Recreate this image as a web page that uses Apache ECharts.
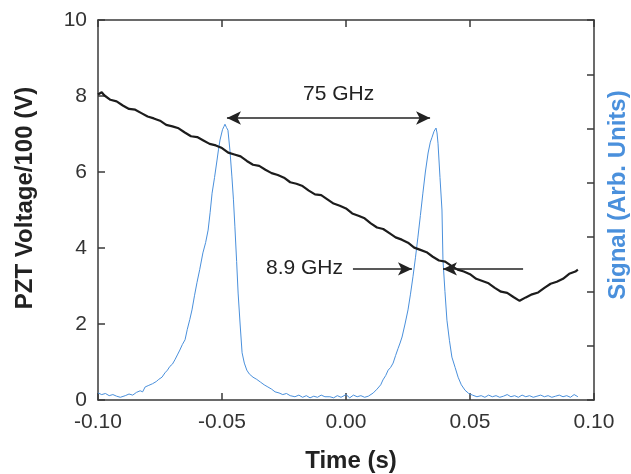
<!DOCTYPE html>
<html>
<head>
    <meta charset="utf-8">
    <title>PZT scan</title>
    <style>
        html, body { margin: 0; padding: 0; background: #fff; }
        #main { width: 631px; height: 474px; }
    </style>
</head>
<body>
<div id="main"></div>
<script src="https://cdn.jsdelivr.net/npm/echarts@6/dist/echarts.min.js"></script>
<script type="text/javascript">
    // x tick labels (time, s)
    var timeTicks = ['-0.10', '-0.05', '0.00', '0.05', '0.10'];

    // PZT voltage / 100 (V), left axis
    var pztTime = [-0.1000, -0.0985, -0.0975, -0.0950, -0.0925, -0.0900, -0.0875, -0.0850, -0.0825, -0.0800,
        -0.0775, -0.0750, -0.0725, -0.0700, -0.0675, -0.0650, -0.0625, -0.0600, -0.0575, -0.0550,
        -0.0525, -0.0500, -0.0475, -0.0450, -0.0425, -0.0400, -0.0375, -0.0350, -0.0325, -0.0300,
        -0.0275, -0.0250, -0.0225, -0.0200, -0.0175, -0.0150, -0.0125, -0.0100, -0.0075, -0.0050,
        -0.0025, 0.0000, 0.0025, 0.0050, 0.0075, 0.0100, 0.0125, 0.0150, 0.0175, 0.0200,
        0.0225, 0.0250, 0.0275, 0.0300, 0.0325, 0.0350, 0.0375, 0.0400, 0.0425, 0.0450,
        0.0475, 0.0500, 0.0525, 0.0550, 0.0575, 0.0600, 0.0625, 0.0650, 0.0675, 0.0700,
        0.0706, 0.0725, 0.0750, 0.0775, 0.0800, 0.0825, 0.0850, 0.0875, 0.0900, 0.0925, 0.0935];
    var pztVolt = [8.04, 8.10, 8.02, 7.90, 7.86, 7.75, 7.66, 7.64, 7.55, 7.46,
        7.41, 7.35, 7.24, 7.20, 7.15, 7.04, 6.94, 6.92, 6.83, 6.74,
        6.70, 6.63, 6.51, 6.46, 6.41, 6.29, 6.19, 6.16, 6.06, 5.97,
        5.92, 5.85, 5.73, 5.69, 5.63, 5.51, 5.41, 5.39, 5.28, 5.17,
        5.11, 5.04, 4.91, 4.85, 4.78, 4.65, 4.54, 4.50, 4.39, 4.28,
        4.22, 4.14, 4.01, 3.95, 3.89, 3.77, 3.67, 3.64, 3.53, 3.43,
        3.38, 3.31, 3.19, 3.13, 3.07, 2.95, 2.85, 2.82, 2.71, 2.61,
        2.60, 2.70, 2.78, 2.83, 2.95, 3.06, 3.11, 3.19, 3.32, 3.38, 3.43];

    // transmission signal (arb. units), right axis
    var sigTime = [-0.1000, -0.0985, -0.0970, -0.0955, -0.0940, -0.0925, -0.0910, -0.0903, -0.0890, -0.0875,
        -0.0860, -0.0845, -0.0830, -0.0820, -0.0810, -0.0795, -0.0780, -0.0765, -0.0755, -0.0742,
        -0.0730, -0.0720, -0.0710, -0.0700, -0.0690, -0.0680, -0.0670, -0.0660, -0.0649, -0.0640,
        -0.0630, -0.0621, -0.0611, -0.0601, -0.0590, -0.0577, -0.0566, -0.0556, -0.0548, -0.0540,
        -0.0530, -0.0520, -0.0514, -0.0508, -0.0498, -0.0492, -0.0488, -0.0482, -0.0476, -0.0468,
        -0.0460, -0.0454, -0.0448, -0.0441, -0.0435, -0.0427, -0.0419, -0.0410, -0.0400, -0.0390,
        -0.0375, -0.0360, -0.0345, -0.0330, -0.0315, -0.0300, -0.0286, -0.0270, -0.0255, -0.0240,
        -0.0225, -0.0206, -0.0190, -0.0175, -0.0160, -0.0145, -0.0130, -0.0115, -0.0100, -0.0085,
        -0.0065, -0.0050, -0.0035, -0.0020, 0.0000, 0.0015, 0.0030, 0.0045, 0.0060, 0.0075,
        0.0090, 0.0097, 0.0110, 0.0125, 0.0140, 0.0149, 0.0160, 0.0170, 0.0180, 0.0190,
        0.0200, 0.0210, 0.0218, 0.0226, 0.0238, 0.0250, 0.0260, 0.0270, 0.0280, 0.0290,
        0.0300, 0.0310, 0.0320, 0.0331, 0.0340, 0.0347, 0.0355, 0.0363, 0.0367, 0.0371,
        0.0379, 0.0387, 0.0391, 0.0399, 0.0407, 0.0417, 0.0427, 0.0440, 0.0452, 0.0465,
        0.0480, 0.0495, 0.0510, 0.0528, 0.0545, 0.0560, 0.0575, 0.0590, 0.0605, 0.0620,
        0.0635, 0.0650, 0.0665, 0.0680, 0.0695, 0.0710, 0.0725, 0.0740, 0.0755, 0.0770,
        0.0785, 0.0800, 0.0815, 0.0830, 0.0845, 0.0860, 0.0875, 0.0890, 0.0905, 0.0920, 0.0935];
    var sigValue = [0.13, 0.10, 0.12, 0.08, 0.10, 0.07, 0.05, 0.03, 0.08, 0.11,
        0.09, 0.14, 0.17, 0.15, 0.24, 0.27, 0.30, 0.34, 0.38, 0.42,
        0.50, 0.55, 0.62, 0.66, 0.74, 0.83, 0.92, 1.02, 1.11, 1.30,
        1.48, 1.66, 1.92, 2.16, 2.40, 2.71, 2.90, 3.13, 3.45, 3.81,
        4.10, 4.42, 4.62, 4.79, 4.98, 5.04, 5.08, 5.02, 4.97, 4.60,
        4.11, 3.70, 3.19, 2.55, 1.97, 1.40, 0.87, 0.68, 0.55, 0.48,
        0.42, 0.38, 0.33, 0.28, 0.24, 0.20, 0.15, 0.13, 0.10, 0.12,
        0.08, 0.06, 0.09, 0.05, 0.08, 0.04, 0.07, 0.05, 0.09, 0.06,
        0.06, 0.04, 0.08, 0.05, 0.10, 0.04, 0.09, 0.06, 0.08, 0.05,
        0.07, 0.09, 0.13, 0.20, 0.28, 0.37, 0.45, 0.55, 0.60, 0.68,
        0.82, 0.95, 1.05, 1.16, 1.40, 1.66, 1.95, 2.27, 2.62, 3.00,
        3.40, 3.81, 4.20, 4.55, 4.75, 4.84, 4.95, 5.01, 4.92, 4.73,
        4.10, 3.50, 2.58, 2.00, 1.47, 1.10, 0.79, 0.60, 0.42, 0.28,
        0.18, 0.12, 0.09, 0.06, 0.08, 0.05, 0.09, 0.06, 0.08, 0.05,
        0.07, 0.10, 0.06, 0.08, 0.05, 0.09, 0.06, 0.08, 0.05, 0.07,
        0.09, 0.06, 0.08, 0.05, 0.07, 0.09, 0.06, 0.08, 0.05, 0.10, 0.06];

    // annotation arrows [t0, v0, t1, v1] in left-axis units
    var fsrArrow = [-0.0480, 7.42, 0.0339, 7.42];
    var fwhmLeftArrow = [0.0028, 3.45, 0.0266, 3.45];
    var fwhmRightArrow = [0.0714, 3.45, 0.0391, 3.45];

    function pairs(xs, ys) {
        var out = [];
        for (var i = 0; i < xs.length; i++) out.push([xs[i], ys[i]]);
        return out;
    }

    var font = 'Liberation Sans, Arial, sans-serif';
    var axisColor = '#3a3a3a';
    var blue = '#4a90dc';

    var myChart = echarts.init(document.getElementById('main'));

    var option = {
        backgroundColor: '#ffffff',
        animation: false,
        grid: {left: 98, right: 37, top: 20, bottom: 74, containLabel: false, outerBoundsMode: 'none'},
        xAxis: [{
            type: 'value',
            min: -0.10,
            max: 0.10,
            interval: 0.05,
            position: 'bottom',
            name: 'Time (s)',
            nameLocation: 'middle',
            nameGap: 49,
            nameTextStyle: {fontFamily: font, fontSize: 24, fontWeight: 'bold', color: '#222', padding: [0, 0, 0, 10]},
            axisLine: {onZero: false, lineStyle: {color: axisColor, width: 1.5}},
            axisTick: {inside: true, length: 7, lineStyle: {color: axisColor, width: 1.5}},
            axisLabel: {
                fontFamily: font, fontSize: 21, color: '#333', margin: 12,
                formatter: function (v) {
                    return timeTicks[Math.round((v + 0.10) / 0.05)];
                }
            },
            splitLine: {show: false}
        }, {
            type: 'value',
            min: -0.10,
            max: 0.10,
            interval: 0.05,
            position: 'top',
            axisLine: {onZero: false, lineStyle: {color: axisColor, width: 1.5}},
            axisTick: {inside: true, length: 7, lineStyle: {color: axisColor, width: 1.5}},
            axisLabel: {show: false},
            splitLine: {show: false}
        }],
        yAxis: [{
            type: 'value',
            min: 0,
            max: 10,
            interval: 2,
            position: 'left',
            name: 'PZT Voltage/100 (V)',
            nameLocation: 'middle',
            nameGap: 61,
            nameTextStyle: {fontFamily: font, fontSize: 24, fontWeight: 'bold', color: '#222', padding: [0, 0, 0, 24]},
            axisLine: {show: true, onZero: false, lineStyle: {color: axisColor, width: 1.5}},
            axisTick: {show: true, inside: true, length: 7, lineStyle: {color: axisColor, width: 1.5}},
            axisLabel: {fontFamily: font, fontSize: 21, color: '#333', margin: 11},
            splitLine: {show: false}
        }, {
            type: 'value',
            min: 0,
            max: 7,
            interval: 1,
            position: 'right',
            name: 'Signal (Arb. Units)',
            nameLocation: 'middle',
            nameGap: 12,
            nameRotate: 90,
            nameTextStyle: {fontFamily: font, fontSize: 24, fontWeight: 'bold', color: blue, padding: [0, 0, 0, 30]},
            axisLine: {show: true, onZero: false, lineStyle: {color: axisColor, width: 1.5}},
            axisTick: {show: true, inside: true, length: 7, lineStyle: {color: axisColor, width: 1.5}},
            axisLabel: {show: false},
            splitLine: {show: false}
        }],
        series: [{
            name: 'Signal',
            type: 'line',
            xAxisIndex: 0,
            yAxisIndex: 1,
            data: pairs(sigTime, sigValue),
            showSymbol: false,
            lineStyle: {color: blue, width: 1}
        }, {
            name: 'PZT',
            type: 'line',
            xAxisIndex: 0,
            yAxisIndex: 0,
            data: pairs(pztTime, pztVolt),
            showSymbol: false,
            lineStyle: {color: '#1c1c1c', width: 2.2},
            markLine: {
                silent: true,
                symbolSize: [10, 14],
                label: {show: false},
                lineStyle: {color: '#222', width: 1.5, type: 'solid'},
                data: [
                    [{coord: [fsrArrow[0], fsrArrow[1]], symbol: 'arrow'},
                        {coord: [fsrArrow[2], fsrArrow[3]], symbol: 'arrow'}],
                    [{coord: [fwhmLeftArrow[0], fwhmLeftArrow[1]], symbol: 'none'},
                        {coord: [fwhmLeftArrow[2], fwhmLeftArrow[3]], symbol: 'arrow'}],
                    [{coord: [fwhmRightArrow[0], fwhmRightArrow[1]], symbol: 'none'},
                        {coord: [fwhmRightArrow[2], fwhmRightArrow[3]], symbol: 'arrow'}]
                ]
            }
        }],
        graphic: [{
            type: 'text',
            left: 303,
            top: 84,
            style: {text: '75 GHz', font: '21px ' + font, fill: '#222'}
        }, {
            type: 'text',
            left: 266,
            top: 258,
            style: {text: '8.9 GHz', font: '21px ' + font, fill: '#222'}
        }]
    };

    myChart.setOption(option);
</script>
</body>
</html>
